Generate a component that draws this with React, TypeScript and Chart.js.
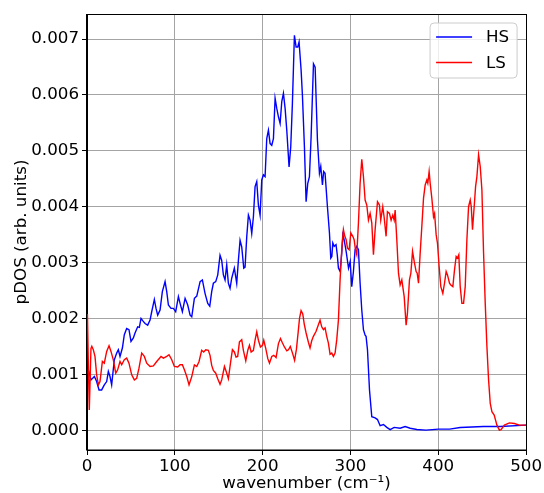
import React, { useEffect, useRef } from 'react';
import { Chart, registerables } from 'chart.js';

Chart.register(...registerables);

const FONT = "'DejaVu Sans', sans-serif";

const xTicks = [0, 100, 200, 300, 400, 500];
const yTicks = [0, 0.001, 0.002, 0.003, 0.004, 0.005, 0.006, 0.007];
const xLabel = 'wavenumber (cm⁻¹)';
const yLabel = 'pDOS (arb. units)';
const seriesNames = ['HS', 'LS'];
const seriesColors = ['#0000ff', '#ff0000'];

// [wavenumber, pDOS]
const hsData: [number, number][] = [
  [0, 0.00100], [1.5, 0.00108], [4.6, 0.00090], [8.4, 0.00096], [11.0, 0.00087], [13.7, 0.00072],
  [16.7, 0.00072], [19.7, 0.00081], [22.4, 0.00087], [24.3, 0.00105], [26.2, 0.00096], [28.1, 0.00081],
  [31.1, 0.00126], [33.8, 0.00138], [35.7, 0.00144], [37.6, 0.00132], [40.3, 0.00147], [42.5, 0.00171],
  [45.2, 0.00182], [47.8, 0.00180], [50.1, 0.00159], [52.8, 0.00165], [54.7, 0.00174], [57.7, 0.00185],
  [59.6, 0.00184], [61.5, 0.00200], [63.4, 0.00196], [66.1, 0.00191], [69.1, 0.00188], [71.8, 0.00197],
  [73.7, 0.00212], [76.7, 0.00234], [78.6, 0.00218], [80.5, 0.00206], [83.2, 0.00215], [85.8, 0.00248],
  [88.9, 0.00266], [90.8, 0.00248], [92.7, 0.00224], [95.7, 0.00218], [98.4, 0.00218], [101.0, 0.00212],
  [104.1, 0.00239], [106.0, 0.00227], [108.6, 0.00212], [111.7, 0.00236], [114.7, 0.00224], [117.4, 0.00206],
  [119.3, 0.00203], [122.3, 0.00236], [125.0, 0.00240], [128.8, 0.00266], [131.4, 0.00269], [134.4, 0.00245],
  [137.5, 0.00227], [139.8, 0.00222], [142.0, 0.00248], [143.9, 0.00263], [146.6, 0.00266], [148.9, 0.00278],
  [151.5, 0.00313], [153.4, 0.00304], [155.3, 0.00278], [157.2, 0.00269], [159.1, 0.00296], [161.0, 0.00263],
  [162.9, 0.00254], [164.8, 0.00272], [167.8, 0.00290], [170.5, 0.00263], [172.4, 0.00304], [174.3, 0.00340],
  [176.2, 0.00328], [178.5, 0.00290], [180.0, 0.00292], [181.9, 0.00346], [183.8, 0.00385], [185.7, 0.00376],
  [187.6, 0.00352], [189.5, 0.00382], [191.4, 0.00436], [193.3, 0.00445], [195.2, 0.00403], [197.1, 0.00385],
  [199.0, 0.00448], [200.9, 0.00457], [202.8, 0.00454], [204.7, 0.00522], [206.6, 0.00537], [208.5, 0.00513],
  [210.4, 0.00510], [212.3, 0.00522], [214.2, 0.00594], [216.1, 0.00576], [218.0, 0.00561], [219.9, 0.00549],
  [221.8, 0.00588], [223.7, 0.00603], [225.6, 0.00576], [227.5, 0.00537], [230.1, 0.00471], [232.0, 0.00507],
  [233.9, 0.00585], [236.2, 0.00707], [238.1, 0.00686], [240.0, 0.00686], [241.5, 0.00695], [243.8, 0.00645],
  [245.3, 0.00600], [247.6, 0.00507], [249.5, 0.00409], [251.4, 0.00442], [253.3, 0.00454], [255.2, 0.00525],
  [257.9, 0.00656], [259.8, 0.00650], [262.4, 0.00520], [264.7, 0.00460], [266.2, 0.00472], [268.1, 0.00439],
  [269.5, 0.00463], [271.1, 0.00460], [273.8, 0.00400], [276.1, 0.00353], [277.6, 0.00308], [278.8, 0.00311],
  [279.9, 0.00335], [281.5, 0.00329], [283.6, 0.00332], [285.0, 0.00314], [286.3, 0.00290], [288.2, 0.00284],
  [290.1, 0.00317], [291.3, 0.00350], [292.8, 0.00341], [295.1, 0.00320], [297.8, 0.00290], [299.7, 0.00302],
  [301.5, 0.00257], [303.4, 0.00284], [305.3, 0.00323], [307.2, 0.00329], [309.1, 0.00323], [311.0, 0.00263],
  [312.9, 0.00215], [314.8, 0.00180], [316.7, 0.00170], [317.8, 0.00168], [319.4, 0.00144], [321.7, 0.00072],
  [324.3, 0.00024], [328.1, 0.00022], [330.8, 0.00019], [333.8, 0.00008], [337.6, 0.00010], [341.4, 0.00005],
  [345.2, 0.00001], [349.8, 0.00005], [356.6, 0.000035], [362.3, 0.000065], [368.0, 0.000035], [375.6, 0.000012],
  [386.0, 0.0], [400.0, 0.000018], [413.0, 0.000018], [425.0, 0.000047], [451.6, 0.000065], [470.6, 0.000065],
  [500.0, 0.00009],
];

const lsData: [number, number][] = [
  [0.5, 0.00208], [1.5, 0.00120], [2.6, 0.00036], [4.5, 0.00146], [5.5, 0.00150], [7.2, 0.00144],
  [9.1, 0.00132], [11.0, 0.00099], [12.9, 0.00081], [14.8, 0.00087], [17.5, 0.00123], [19.7, 0.00120],
  [22.4, 0.00141], [25.1, 0.00151], [27.3, 0.00141], [30.0, 0.00126], [32.7, 0.00102], [34.9, 0.00108],
  [37.6, 0.00123], [39.5, 0.00117], [42.5, 0.00126], [45.2, 0.00129], [47.8, 0.00120], [50.9, 0.00099],
  [53.9, 0.00090], [56.6, 0.00093], [59.2, 0.00111], [62.3, 0.00138], [65.3, 0.00132], [68.0, 0.00120],
  [71.8, 0.00114], [75.6, 0.00115], [79.4, 0.00123], [84.3, 0.00132], [87.0, 0.00129], [90.8, 0.00132],
  [93.4, 0.00135], [96.5, 0.00126], [99.5, 0.00114], [103.3, 0.00113], [106.0, 0.00117], [108.6, 0.00117],
  [110.9, 0.00108], [113.6, 0.00096], [116.2, 0.00081], [119.3, 0.00096], [122.3, 0.00117], [125.0, 0.00114],
  [127.6, 0.00123], [130.6, 0.00143], [132.9, 0.00140], [135.2, 0.00144], [138.2, 0.00143], [140.1, 0.00134],
  [142.0, 0.00116], [143.9, 0.00107], [146.6, 0.00102], [148.9, 0.00092], [151.5, 0.00082], [153.4, 0.00090],
  [156.5, 0.00114], [158.7, 0.00104], [161.0, 0.00092], [163.3, 0.00119], [165.6, 0.00144], [167.8, 0.00140],
  [169.7, 0.00131], [171.6, 0.00132], [173.6, 0.00158], [176.2, 0.00162], [178.1, 0.00143], [180.8, 0.00124],
  [183.1, 0.00143], [185.0, 0.00152], [186.9, 0.00140], [189.5, 0.00143], [191.4, 0.00161], [193.3, 0.00176],
  [195.2, 0.00161], [197.5, 0.00149], [199.8, 0.00152], [201.3, 0.00161], [203.6, 0.00146], [205.9, 0.00128],
  [207.8, 0.00120], [210.4, 0.00132], [212.7, 0.00134], [215.3, 0.00130], [218.0, 0.00155], [220.3, 0.00164],
  [222.6, 0.00156], [224.8, 0.00149], [227.5, 0.00142], [229.4, 0.00144], [231.5, 0.00150], [234.2, 0.00137],
  [236.4, 0.00125], [238.5, 0.00145], [240.5, 0.00176], [242.0, 0.00200], [243.8, 0.00214], [245.7, 0.00208],
  [247.4, 0.00190], [249.5, 0.00174], [252.2, 0.00157], [254.0, 0.00147], [255.9, 0.00160], [257.8, 0.00168],
  [260.9, 0.00177], [263.6, 0.00189], [265.4, 0.00197], [267.3, 0.00185], [269.2, 0.00180], [271.1, 0.00183],
  [273.0, 0.00168], [274.9, 0.00156], [276.8, 0.00136], [278.7, 0.00138], [280.6, 0.00132], [282.5, 0.00138],
  [284.4, 0.00162], [286.3, 0.00197], [288.2, 0.00269], [290.1, 0.00323], [292.0, 0.00359], [293.6, 0.00347],
  [295.1, 0.00341], [296.6, 0.00326], [298.5, 0.00323], [300.4, 0.00353], [302.7, 0.00347], [304.2, 0.00341],
  [305.7, 0.00323], [307.2, 0.00314], [309.1, 0.00371], [311.0, 0.00442], [312.9, 0.00485], [314.8, 0.00454],
  [316.7, 0.00412], [318.6, 0.00403], [320.5, 0.00376], [322.4, 0.00388], [324.3, 0.00371], [326.2, 0.00314],
  [328.1, 0.00359], [330.8, 0.00409], [333.0, 0.00403], [334.5, 0.00376], [336.8, 0.00400], [338.3, 0.00382],
  [340.6, 0.00347], [342.1, 0.00391], [344.4, 0.00388], [346.3, 0.00376], [348.2, 0.00385], [349.8, 0.00376],
  [350.9, 0.00394], [352.8, 0.00341], [354.7, 0.00281], [356.6, 0.00260], [358.5, 0.00269], [359.6, 0.00257],
  [361.2, 0.00239], [363.4, 0.00188], [364.9, 0.00209], [367.2, 0.00269], [368.8, 0.00281], [370.7, 0.00320],
  [372.6, 0.00302], [374.8, 0.00284], [376.0, 0.00281], [377.5, 0.00263], [379.4, 0.00317], [381.3, 0.00365],
  [383.2, 0.00415], [385.1, 0.00439], [387.0, 0.00448], [388.1, 0.00442], [389.6, 0.00463], [390.8, 0.00442],
  [392.7, 0.00415], [394.6, 0.00382], [395.8, 0.00388], [397.6, 0.00350], [399.1, 0.00335], [401.0, 0.00293],
  [402.9, 0.00257], [405.2, 0.00245], [407.1, 0.00263], [409.0, 0.00284], [410.5, 0.00278], [412.8, 0.00263],
  [414.3, 0.00260], [416.6, 0.00257], [418.5, 0.00287], [420.4, 0.00311], [421.9, 0.00308], [423.4, 0.00314],
  [425.0, 0.00257], [426.9, 0.00227], [428.8, 0.00227], [430.7, 0.00257], [432.6, 0.00341], [434.5, 0.00400],
  [436.4, 0.00412], [437.6, 0.00400], [439.0, 0.00359], [440.9, 0.00400], [442.5, 0.00436], [444.0, 0.00454],
  [445.9, 0.00493], [447.8, 0.00472], [449.7, 0.00430], [451.6, 0.00317], [453.5, 0.00227], [455.4, 0.00150],
  [457.3, 0.00090], [459.2, 0.00048], [461.1, 0.00033], [463.7, 0.00027], [466.8, 0.00009], [469.6, 0.00000],
  [471.5, 0.00001], [475.3, 0.00009], [481.0, 0.00013], [486.7, 0.00012], [492.4, 0.00009], [500.0, 0.00009],
];

const seriesData = [hsData, lsData];

const decorPlugin = {
  id: 'decor',
  afterDraw(chart: any) {
    const { ctx, chartArea: a } = chart;
    ctx.save();
    // frame (all four spines)
    ctx.strokeStyle = '#000';
    ctx.lineWidth = 1;
    ctx.strokeRect(Math.round(a.left) - 0.5, Math.round(a.top) + 0.5, Math.round(a.right - a.left) + 1, Math.round(a.bottom - a.top) - 0.5);

    // legend
    const bx = a.right - 96, by = a.top + 9, bw = 87, bh = 55, r = 4;
    ctx.beginPath();
    ctx.moveTo(bx + r, by);
    ctx.lineTo(bx + bw - r, by);
    ctx.quadraticCurveTo(bx + bw, by, bx + bw, by + r);
    ctx.lineTo(bx + bw, by + bh - r);
    ctx.quadraticCurveTo(bx + bw, by + bh, bx + bw - r, by + bh);
    ctx.lineTo(bx + r, by + bh);
    ctx.quadraticCurveTo(bx, by + bh, bx, by + bh - r);
    ctx.lineTo(bx, by + r);
    ctx.quadraticCurveTo(bx, by, bx + r, by);
    ctx.closePath();
    ctx.fillStyle = 'rgba(255,255,255,0.8)';
    ctx.fill();
    ctx.strokeStyle = '#cccccc';
    ctx.lineWidth = 1;
    ctx.stroke();
    ctx.font = `16.7px ${FONT}`;
    ctx.textBaseline = 'middle';
    ctx.textAlign = 'left';
    seriesNames.forEach((name, i) => {
      const ly = by + 14 + i * 25.5;
      ctx.strokeStyle = seriesColors[i];
      ctx.lineWidth = 1.4;
      ctx.beginPath();
      ctx.moveTo(bx + 6, ly);
      ctx.lineTo(bx + 42, ly);
      ctx.stroke();
      ctx.fillStyle = '#000';
      ctx.fillText(name, bx + 56, ly + 1);
    });

    // axis titles
    ctx.fillStyle = '#000';
    ctx.font = `16.7px ${FONT}`;
    ctx.textAlign = 'center';
    ctx.textBaseline = 'middle';
    ctx.fillText(xLabel, (a.left + a.right) / 2, 484);
    ctx.translate(22, (a.top + a.bottom) / 2);
    ctx.rotate(-Math.PI / 2);
    ctx.fillText(yLabel, 0, 0);
    ctx.restore();
  },
};

export default function App() {
  const ref = useRef<HTMLCanvasElement | null>(null);
  useEffect(() => {
    document.body.style.margin = '0';
    const canvas = ref.current!;
    const tickFont = { family: FONT, size: 16.7 };
    const chart = new Chart(canvas, {
      type: 'line',
      data: {
        datasets: seriesNames.map((name, i) => ({
          label: name,
          data: seriesData[i].map(([x, y]) => ({ x, y })),
          borderColor: seriesColors[i],
          backgroundColor: seriesColors[i],
          borderWidth: 1.4,
          pointRadius: 0,
          tension: 0,
          fill: false,
          order: i === 0 ? 1 : 0,
        })),
      },
      options: {
        animation: false,
        responsive: false,
        events: [],
        layout: { padding: { left: 0, top: 14, right: 17, bottom: 0 } },
        plugins: { legend: { display: false }, tooltip: { enabled: false } },
        scales: {
          x: {
            type: 'linear',
            min: 0,
            max: 500,
            afterFit: (s: any) => { s.height = 43; },
            afterBuildTicks: (s: any) => { s.ticks = xTicks.map((v) => ({ value: v })); },
            grid: { color: '#a4a4a4', lineWidth: 1, tickColor: '#000', tickLength: 5, drawTicks: true },
            border: { display: true, color: '#000', width: 1 },
            ticks: { font: tickFont, color: '#000', padding: 2, maxRotation: 0, callback: (v: any) => String(v) },
          },
          y: {
            type: 'linear',
            min: -0.000355,
            max: 0.00745,
            afterFit: (s: any) => { s.width = 87; },
            afterBuildTicks: (s: any) => { s.ticks = yTicks.map((v) => ({ value: v })); },
            grid: { color: '#a4a4a4', lineWidth: 1, tickColor: '#000', tickLength: 5, drawTicks: true },
            border: { display: true, color: '#000', width: 1 },
            ticks: { font: tickFont, color: '#000', padding: 3, callback: (v: any) => Number(v).toFixed(3) },
          },
        },
      },
      plugins: [decorPlugin],
    });
    return () => chart.destroy();
  }, []);
  return (
    <div style={{ position: 'absolute', left: 0, top: 0, width: 544, height: 493, background: '#fff' }}>
      <canvas ref={ref} width={544} height={493} style={{ width: 544, height: 493 }} />
    </div>
  );
}
